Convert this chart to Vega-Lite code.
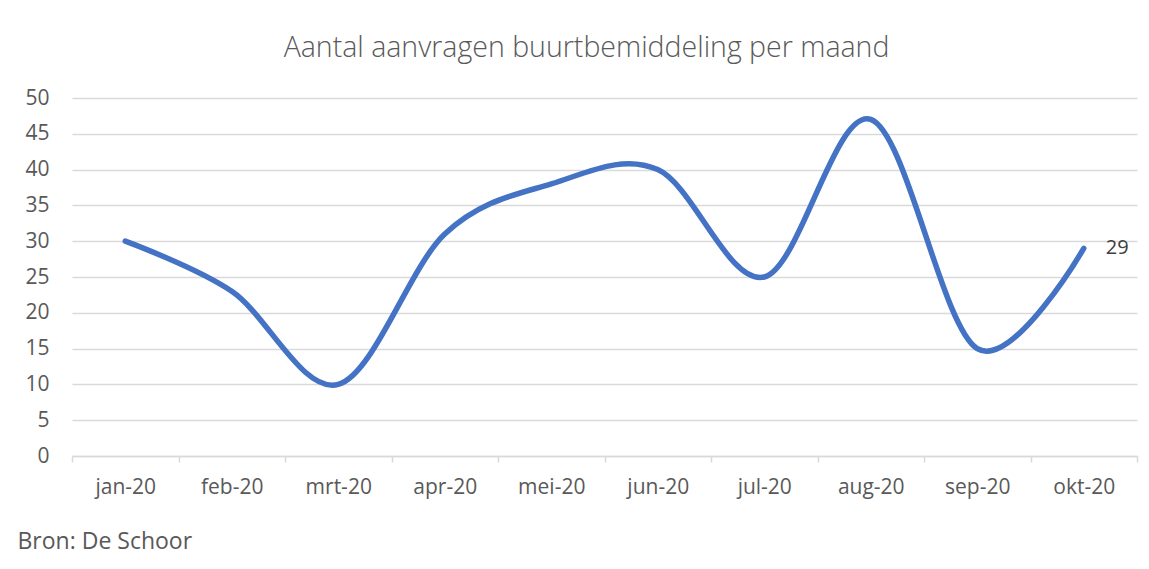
{
  "$schema": "https://vega.github.io/schema/vega-lite/v6.json",
  "autosize": "none",
  "width": 1065,
  "height": 358,
  "padding": {"left": 72, "top": 98, "right": 12, "bottom": 113},
  "background": "white",
  "config": {
    "view": {"stroke": null},
    "font": "Open Sans"
  },
  "title": {
    "text": "Aantal aanvragen buurtbemiddeling per maand",
    "font": "Open Sans",
    "fontSize": 28.5,
    "fontWeight": 300,
    "color": "#595959",
    "anchor": "middle",
    "frame": "group",
    "baseline": "alphabetic",
    "offset": 2,
    "dx": -18
  },
  "data": {
    "values": [
      {"maand": "jan-20", "aantal": 30},
      {"maand": "feb-20", "aantal": 23},
      {"maand": "mrt-20", "aantal": 10},
      {"maand": "apr-20", "aantal": 31},
      {"maand": "mei-20", "aantal": 38},
      {"maand": "jun-20", "aantal": 40},
      {"maand": "jul-20", "aantal": 25},
      {"maand": "aug-20", "aantal": 47},
      {"maand": "sep-20", "aantal": 15},
      {"maand": "okt-20", "aantal": 29}
    ]
  },
  "encoding": {
    "x": {
      "field": "maand",
      "type": "nominal",
      "sort": null,
      "scale": {"paddingInner": 0, "paddingOuter": 0},
      "axis": {
        "title": "Bron: De Schoor",
        "titleFont": "Open Sans",
        "titleFontSize": 23,
        "titleFontWeight": "normal",
        "titleColor": "#595959",
        "titleAnchor": "start",
        "titleAlign": "left",
        "titleBaseline": "alphabetic",
        "titleX": -55,
        "titleY": 92,
        "labelAngle": 0,
        "labelFont": "Open Sans",
        "labelFontSize": 21,
        "labelColor": "#595959",
        "labelBaseline": "alphabetic",
        "labelPadding": 31,
        "tickBand": "extent",
        "tickSize": 6,
        "tickColor": "#d9d9d9",
        "tickWidth": 1.5,
        "domainColor": "#d9d9d9",
        "domainWidth": 1.5,
        "grid": false
      }
    },
    "y": {
      "field": "aantal",
      "type": "quantitative",
      "scale": {"domain": [0, 50], "nice": false},
      "axis": {
        "title": null,
        "values": [0, 5, 10, 15, 20, 25, 30, 35, 40, 45, 50],
        "labelFont": "Open Sans",
        "labelFontSize": 21,
        "labelColor": "#595959",
        "labelPadding": 23,
        "ticks": false,
        "domain": false,
        "grid": true,
        "gridColor": "#d9d9d9",
        "gridWidth": 1.5
      }
    }
  },
  "layer": [
    {
      "mark": {
        "type": "line",
        "interpolate": "cardinal",
        "color": "#4472C4",
        "strokeWidth": 5.5,
        "strokeCap": "round",
        "strokeJoin": "round"
      }
    },
    {
      "transform": [{"filter": "datum.maand === 'okt-20'"}],
      "mark": {
        "type": "text",
        "align": "left",
        "baseline": "middle",
        "dx": 22,
        "font": "Open Sans",
        "fontSize": 20,
        "color": "#404040"
      },
      "encoding": {
        "text": {"field": "aantal", "type": "quantitative"}
      }
    }
  ]
}
